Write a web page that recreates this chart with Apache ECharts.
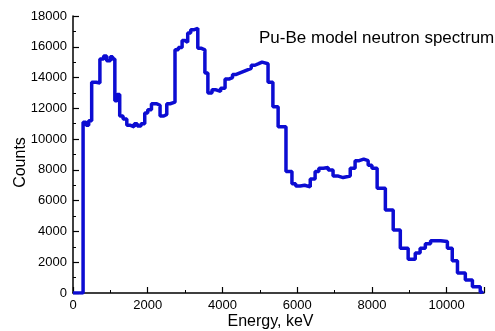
<!DOCTYPE html>
<html><head><meta charset="utf-8">
<script src="https://cdn.jsdelivr.net/npm/echarts@6/dist/echarts.min.js"></script>
<style>html,body{margin:0;padding:0;background:#fff}#c{width:495px;height:331px}</style>
</head><body><div id="c"></div>
<script>
const titleText = 'Pu-Be model neutron spectrum';
const xName = 'Energy, keV';
const yName = 'Counts';
const energy = [0, 270, 350, 420, 500, 620, 720, 820, 900, 1000, 1060, 1120, 1180, 1250, 1340, 1440, 1540, 1640, 1720, 1820, 1920, 2000, 2100, 2230, 2330, 2430, 2510, 2600, 2730, 2820, 2920, 3000, 3070, 3150, 3230, 3340, 3440, 3530, 3610, 3720, 3830, 3950, 4070, 4170, 4270, 4370, 4470, 4570, 4670, 4770, 4870, 4970, 5060, 5220, 5350, 5490, 5700, 5860, 5960, 6080, 6200, 6350, 6480, 6580, 6700, 6830, 6960, 7100, 7230, 7420, 7550, 7660, 7780, 7900, 8000, 8140, 8360, 8570, 8760, 8970, 9160, 9290, 9430, 9570, 9700, 9840, 10020, 10150, 10290, 10500, 10690, 10900, 10960];
const counts = [0, 11100, 10900, 11200, 13700, 13650, 15200, 15400, 15100, 15350, 15200, 12500, 12900, 11500, 11300, 10900, 10800, 11000, 10850, 11000, 11700, 11900, 12300, 12200, 11500, 11600, 12300, 12400, 15800, 15950, 16400, 16300, 16900, 17100, 17200, 15900, 15800, 14300, 13000, 13200, 13100, 13300, 13900, 14000, 14200, 14300, 14400, 14500, 14600, 14800, 14900, 15000, 14900, 13700, 12100, 10800, 7900, 7100, 6950, 7000, 6900, 7400, 7900, 8100, 8150, 8000, 7600, 7500, 7600, 8100, 8600, 8700, 8600, 8300, 8100, 6800, 5400, 4100, 2900, 2200, 2600, 2900, 3200, 3400, 3400, 3350, 2900, 2100, 1300, 850, 400, 50, 0];
const xTicks = {min: 0, max: 11000, interval: 2000};
const yTicks = {min: 0, max: 18000, interval: 2000};

const font = "'Liberation Sans', Arial, sans-serif";
const chart = echarts.init(document.getElementById('c'), null, {renderer: 'canvas'});
const axisCommon = {
  axisLine: {show: true, lineStyle: {color: '#000', width: 1.5}},
  axisTick: {show: true, inside: true, length: 6, lineStyle: {color: '#000', width: 1.2}},
  minorTick: {show: true, splitNumber: 2, length: 3, lineStyle: {color: '#000', width: 1}},
  splitLine: {show: false},
  axisLabel: {color: '#000', fontSize: 13, fontFamily: font, margin: 6, formatter: v => String(v)},
  nameTextStyle: {color: '#000', fontSize: 16, fontFamily: font},
  nameLocation: 'middle',
  nameMoveOverlap: false
};
chart.setOption({
  animation: false,
  backgroundColor: '#fff',
  title: {text: titleText, left: 254, top: 25, textStyle: {color: '#000', fontSize: 17, fontWeight: 'normal', fontFamily: font}},
  grid: {left: 73, right: 11, top: 16, bottom: 38, containLabel: false, outerBoundsMode: 'none'},
  xAxis: Object.assign({}, axisCommon, {type: 'value', min: xTicks.min, max: xTicks.max, interval: xTicks.interval, name: xName, nameGap: 21,
    axisLabel: Object.assign({}, axisCommon.axisLabel, {showMaxLabel: false}),
    nameTextStyle: Object.assign({}, axisCommon.nameTextStyle, {padding: [0, 16, 0, 0]})}),
  yAxis: Object.assign({}, axisCommon, {type: 'value', min: yTicks.min, max: yTicks.max, interval: yTicks.interval, name: yName, nameGap: 44,
    nameTextStyle: Object.assign({}, axisCommon.nameTextStyle, {padding: [0, 16, 0, 0]})}),
  series: [{
    type: 'line', step: 'end', showSymbol: false,
    data: energy.map((e, i) => [e, counts[i]]),
    lineStyle: {color: '#0c0cd2', width: 3.5},
    itemStyle: {color: '#0c0cd2'}
  }]
});
</script></body></html>
